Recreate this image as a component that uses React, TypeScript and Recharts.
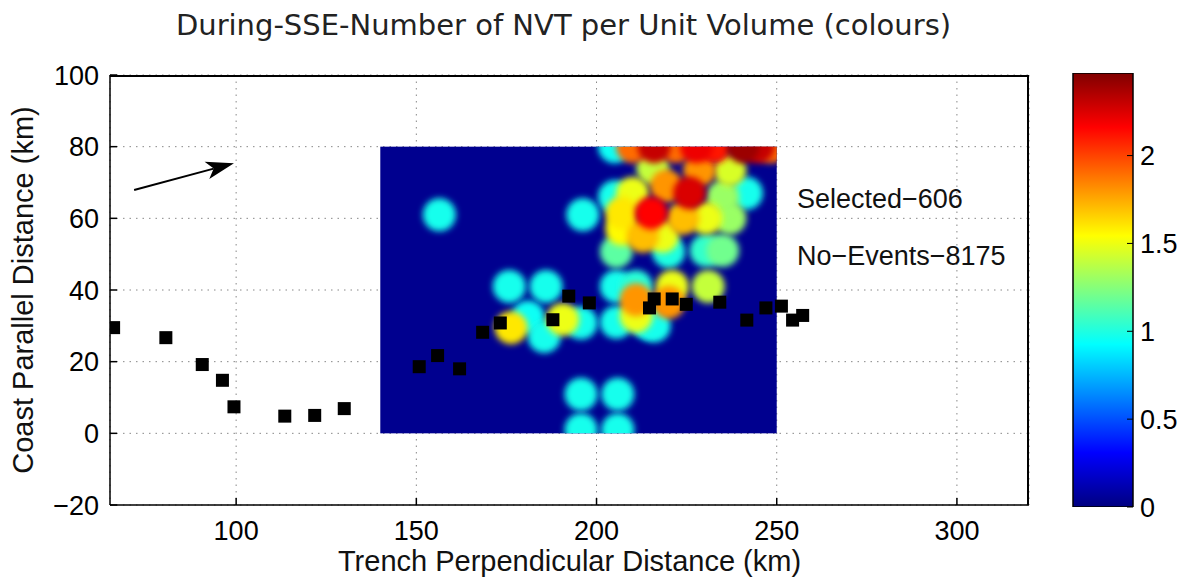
import { ScatterChart, Scatter, XAxis, YAxis, CartesianGrid, ReferenceArea, ReferenceLine, Label, BarChart, Bar } from 'recharts'

const xTicks = [100, 150, 200, 250, 300]
const yTicks = [-20, 0, 20, 40, 60, 80, 100]
const xDomain = [65, 320]
const yDomain = [-20, 100]
const colourTicks = [0, 0.5, 1, 1.5, 2]
const colourMax = 2.47

// top and right sides of the axes box
const boxX = [65, 320, 320]
const boxY = [100, 100, -20]

// region covered by the NVT density grid (km)
const fieldX = [140, 250]
const fieldY = [0, 80]

// black squares along the profile
const stationX = [66, 80.5, 90.6, 96.2, 99.4, 113.5, 121.8, 130, 150.8, 155.9, 162, 168.4, 173.3, 187.9, 192.3, 198, 214.7, 216, 221, 224.9, 234.2, 241.7, 247, 251.3, 254.4, 257.2]
const stationY = [29.5, 26.7, 19.2, 14.8, 7.4, 4.8, 5, 6.9, 18.6, 21.7, 18, 28.2, 30.8, 31.7, 38.3, 36.4, 35, 37.5, 37.5, 36, 36.6, 31.6, 35, 35.5, 31.6, 32.9]

// smoothed NVT counts per unit volume
const blobX = [156.4, 196.2, 175.8, 186, 205.5, 211, 185.5, 181, 195.7, 205.5, 213.8, 216, 195.7, 205.9, 195.7, 205.9, 205, 241.6, 205, 220, 230.4, 235, 205.5,
  176.3, 190.6, 221, 231, 211, 211, 220, 207, 212.8, 218.3, 207, 224, 230.4, 237, 235, 215.6, 228.6, 237, 210, 219.4,
  215.2, 225.8, 210, 216, 222, 227.7, 232.8, 240.6, 244.8, 248.5]
const blobY = [61, 61, 41, 41, 41, 41, 27, 32.5, 30.8, 31, 31, 30, 10.9, 10.9, 1, 1, 66, 67, 80, 50.7, 51, 51, 50.7,
  29.5, 31.8, 41, 41, 32.7, 37.3, 36.5, 57, 55, 55, 61.5, 60, 60, 60, 66, 74, 73.5, 73.5, 67, 69,
  61.5, 67.1, 80, 80, 80, 80, 80, 80, 80, 80]
const blobV = [0.97, 0.97, 0.97, 0.97, 0.97, 1.02, 0.97, 0.95, 0.97, 0.97, 0.97, 0.97, 0.97, 0.97, 0.97, 0.97, 0.97, 0.97, 0.95, 1.0, 1.05, 1.2, 1.15,
  1.6, 1.5, 1.5, 1.4, 1.5, 1.8, 1.8, 1.55, 1.7, 1.5, 1.6, 1.7, 1.5, 1.3, 1.3, 1.4, 1.8, 1.45, 1.5, 1.8,
  2.15, 2.25, 1.9, 2.3, 1.9, 2.2, 2.1, 2.4, 2.3, 1.9]

const noteX = [255.6, 255.6]
const noteY = [62.9, 47]
const noteText = ['Selected\u2212606', 'No\u2212Events\u22128175']

const arrowFrom = { x: 71.7, y: 67.9 }
const arrowTo = { x: 99.4, y: 75.4 }

function jet(t: number) {
  const c = (v: number) => Math.round(255 * Math.max(0, Math.min(1, v)))
  const r = c(Math.min(4 * t - 1.5, -4 * t + 4.5))
  const g = c(Math.min(4 * t - 0.5, -4 * t + 3.5))
  const b = c(Math.min(4 * t + 0.5, -4 * t + 2.5))
  return `rgb(${r},${g},${b})`
}

const minus = (v: number) => String(v).replace('-', '\u2212')

const box = boxX.map((x, i) => ({ x, y: boxY[i] }))
const stations = stationX.map((x, i) => ({ x, y: stationY[i] }))
const blobs = blobX.map((x, i) => ({ x, y: blobY[i], v: blobV[i] })).sort((a, b) => a.v - b.v)
const notes = noteX.map((x, i) => ({ x, y: noteY[i], text: noteText[i] }))
const colourBar = [{ name: 'c', v: colourMax }]

const axisStroke = { stroke: '#000', strokeWidth: 1.5 }
const tickFont = { fill: '#000', fontSize: 27 }

function HeatField(p: any) {
  return (
    <g>
      <defs>
        <clipPath id="heatClip">
          <rect x={p.x} y={p.y} width={p.width} height={p.height} />
        </clipPath>
        <filter id="soften" x="-30%" y="-30%" width="160%" height="160%">
          <feGaussianBlur stdDeviation={3} />
        </filter>
      </defs>
      <rect x={p.x} y={p.y} width={p.width} height={p.height} fill={jet(0.015)} />
    </g>
  )
}

const Nothing = () => <g />

const Blob = (p: any) => (
  <circle cx={p.cx} cy={p.cy} r={16.5} fill={jet(p.payload.v / colourMax)} filter="url(#soften)" clipPath="url(#heatClip)" />
)

const Station = (p: any) => <rect x={p.cx - 6.5} y={p.cy - 6.5} width={13} height={13} fill="#000" />

const Note = (p: any) => (
  <text x={p.cx} y={p.cy} fontSize={27} fill="#111">{p.payload.text}</text>
)

function Arrow(p: any) {
  const dx = p.x2 - p.x1
  const dy = p.y2 - p.y1
  const len = Math.hypot(dx, dy)
  const ux = dx / len
  const uy = dy / len
  const L = 28
  const W = 9
  const bx = p.x2 - L * ux
  const by = p.y2 - L * uy
  const nx = p.x2 - (L - 7) * ux
  const ny = p.y2 - (L - 7) * uy
  const pts = `${p.x2},${p.y2} ${bx - W * uy},${by + W * ux} ${nx},${ny} ${bx + W * uy},${by - W * ux}`
  return (
    <g>
      <line x1={p.x1} y1={p.y1} x2={nx} y2={ny} stroke="#000" strokeWidth={2} />
      <polygon points={pts} fill="#000" />
    </g>
  )
}

function XTitle(p: any) {
  const vb = p.viewBox
  return (
    <text x={vb.x + vb.width / 2} y={vb.y + vb.height + 36} textAnchor="middle" fontSize={29} fill="#111">
      Trench Perpendicular Distance (km)
    </text>
  )
}

function YTitle(p: any) {
  const vb = p.viewBox
  const x = vb.x - 17
  const y = vb.y + vb.height / 2
  return (
    <text x={x} y={y} transform={`rotate(-90, ${x}, ${y})`} textAnchor="middle" fontSize={29} fill="#111">
      Coast Parallel Distance (km)
    </text>
  )
}

function ColourRamp(p: any) {
  return (
    <g>
      <defs>
        <linearGradient id="jetRamp" x1="0" y1="1" x2="0" y2="0">
          {[0, 0.125, 0.25, 0.375, 0.5, 0.625, 0.75, 0.875, 1].map(t => (
            <stop key={t} offset={t} stopColor={jet(t)} />
          ))}
        </linearGradient>
      </defs>
      <rect x={p.x} y={p.y} width={p.width} height={p.height} fill="url(#jetRamp)" stroke="#000" strokeWidth={1.5} />
    </g>
  )
}

export default function App() {
  return (
    <div style={{ position: 'absolute', left: 0, top: 0, width: 1186, height: 584, background: '#fff', fontFamily: '"Liberation Sans", Arial, sans-serif' }}>
      <div style={{ position: 'absolute', left: 0, top: 8, width: 1127, textAlign: 'center', fontFamily: '"DejaVu Sans", sans-serif', fontSize: 29, lineHeight: '34px', color: '#222' }}>
        During-SSE-Number of NVT per Unit Volume (colours)
      </div>
      <div style={{ position: 'absolute', left: 0, top: 0 }}>
        <ScatterChart width={1186} height={584} margin={{ top: 75, right: 157, bottom: 49, left: 50 }}>
          <CartesianGrid stroke="#888" strokeDasharray="1.5 5" />
          <XAxis type="number" dataKey="x" domain={xDomain} ticks={xTicks} allowDataOverflow height={30}
            tickSize={-7} tickMargin={23} tick={tickFont} axisLine={axisStroke} tickLine={axisStroke}>
            <Label content={XTitle} />
          </XAxis>
          <YAxis type="number" dataKey="y" domain={yDomain} ticks={yTicks} allowDataOverflow width={60}
            tickSize={-7} tickMargin={18} tick={tickFont} tickFormatter={minus} axisLine={axisStroke} tickLine={axisStroke}>
            <Label content={YTitle} />
          </YAxis>
          <ReferenceArea x1={fieldX[0]} x2={fieldX[1]} y1={fieldY[0]} y2={fieldY[1]} shape={HeatField} />
          <Scatter data={blobs} shape={Blob} isAnimationActive={false} />
          <Scatter data={stations} shape={Station} isAnimationActive={false} />
          <Scatter data={notes} shape={Note} isAnimationActive={false} />
          <Scatter data={box} shape={Nothing} line={{ stroke: '#000', strokeWidth: 4 }} isAnimationActive={false} />
          <ReferenceLine segment={[arrowFrom, arrowTo]} shape={Arrow} />
        </ScatterChart>
      </div>
      <div style={{ position: 'absolute', left: 1040, top: 0 }}>
        <BarChart width={146} height={584} data={colourBar} margin={{ top: 73, right: 3, bottom: 77, left: 33 }} barCategoryGap={0}>
          <XAxis dataKey="name" hide />
          <YAxis yAxisId="r" orientation="right" width={50} domain={[0, colourMax]} ticks={colourTicks} allowDataOverflow
            tickSize={-6} tickMargin={13} tick={tickFont} axisLine={false} tickLine={{ stroke: '#000' }} />
          <Bar yAxisId="r" dataKey="v" shape={ColourRamp} isAnimationActive={false} />
        </BarChart>
      </div>
    </div>
  )
}
